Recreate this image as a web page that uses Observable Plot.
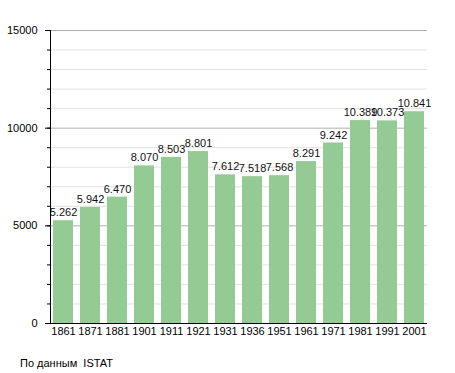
<!DOCTYPE html>
<html><head><meta charset="utf-8">
<script src="https://cdn.jsdelivr.net/npm/d3@7"></script>
<script src="https://cdn.jsdelivr.net/npm/@observablehq/plot@0.6"></script>
<style>
body{margin:0;background:#fff;font-family:"Liberation Sans",Arial,sans-serif;}
#cap{font-size:11px;color:#000;padding:17px 0 0 20px;white-space:pre;}
</style></head>
<body><div id="chart"></div><div id="cap">По данным  ISTAT</div>
<script>
const years = ["1861","1871","1881","1901","1911","1921","1931","1936","1951","1961","1971","1981","1991","2001"];
const population = [5262,5942,6470,8070,8503,8801,7612,7518,7568,8291,9242,10389,10373,10841];
const yTicks = [0,5000,10000,15000];
const minorTicks = d3.range(0,15001,1000);
const data = years.map((y,i)=>({year:y, pop:population[i]}));
const fmt = v => d3.format(",")(v).replace(/,/g,".");
const plot = Plot.plot({
  width:455, height:340,
  marginTop:30, marginBottom:17, marginLeft:50, marginRight:28,
  style:{fontFamily:"Liberation Sans, Arial, sans-serif", fontSize:"11px", color:"#000", background:"#fff"},
  x:{domain:years, paddingInner:0.25, paddingOuter:0.03, label:null},
  y:{domain:[0,15000], label:null},
  marks:[
    Plot.ruleY(minorTicks.filter(d=>d%5000!==0),{stroke:"#e2e2e2", strokeWidth:1}),
    Plot.ruleY(yTicks.filter(d=>d>0),{stroke:"#b0b0b0", strokeWidth:1}),
    Plot.barY(data,{x:"year", y:"pop", fill:"#94ca94"}),
    Plot.text(data,{x:"year", y:"pop", text:d=>fmt(d.pop), dy:-8, fill:"#111", fontSize:11}),
    Plot.axisY(minorTicks,{tickSize:3, tickFormat:()=>"" , stroke:"#000"}),
    Plot.axisY(yTicks,{tickSize:5, tickPadding:8, tickFormat:d=>String(d), fill:"#000"}),
    Plot.axisX({tickSize:0, tickPadding:4, fill:"#000"}),
    Plot.frame({anchor:"left", stroke:"#000"}),
    Plot.ruleY([0],{stroke:"#000"})
  ]
});
document.getElementById("chart").appendChild(plot);
</script></body></html>
